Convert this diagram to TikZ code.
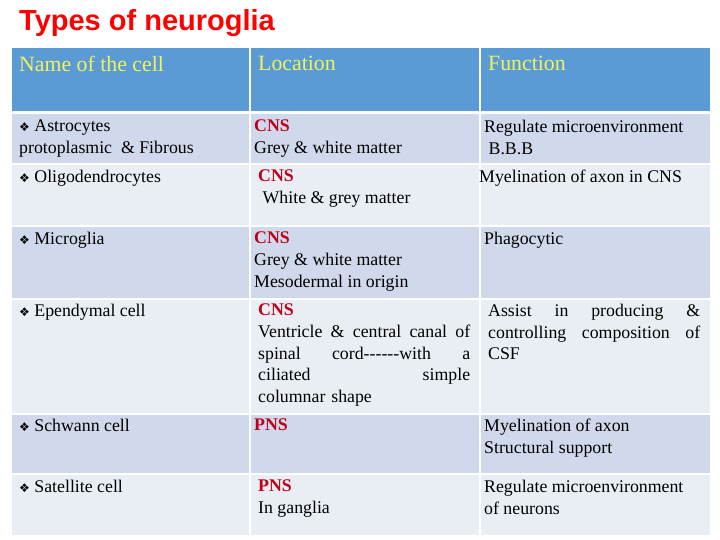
\documentclass[tikz,border=0pt]{standalone}
\usepackage{fontspec}
\setmainfont{Liberation Serif}
\newfontfamily\titlefont{Liberation Sans}
\newfontfamily\symfont{DejaVu Sans}
\definecolor{hdr}{HTML}{5B9BD5}
\definecolor{dark}{HTML}{CFD9EB}
\definecolor{light}{HTML}{E9EEF5}
\definecolor{hyel}{HTML}{F2F25A}
\definecolor{cns}{HTML}{C0001A}
\newcommand{\bul}{{\symfont\fontsize{12}{12}\selectfont ❖}\ }
\newcommand{\rd}[1]{\textcolor{cns}{\textbf{#1}}}
\begin{document}
\begin{tikzpicture}[x=1pt,y=-1pt,
  cell/.style={anchor=north west,inner sep=0pt,align=left,font=\fontsize{17.8}{21.6}\selectfont},
  hd/.style={anchor=north west,inner sep=0pt,font=\fontsize{21.8}{24}\selectfont,text=hyel}]
\useasboundingbox (0,0) rectangle (720,540);
\fill[white] (0,0) rectangle (720,540);
\node[anchor=north west,inner sep=0pt,text=red,font=\titlefont\bfseries\fontsize{29}{30}\selectfont] (title) at (19,9) {Types of neuroglia};
\foreach \ya/\yb/\c in {48/111/hdr,114/163/dark,165/225/light,227/298/dark,300/413/light,415/473/dark,475/535/light}{
  \fill[\c] (12,\ya) rectangle (249,\yb);
  \fill[\c] (251,\ya) rectangle (479,\yb);
  \fill[\c] (481,\ya) rectangle (710,\yb);
}
\node[hd] (h1) at (19,56) {Name of the cell};
\node[hd] (h2) at (258,56) {Location};
\node[hd] (h3) at (488,56) {Function};
\node[cell] (a1) at (19,120) {\bul Astrocytes\\protoplasmic\ \ \& Fibrous};
\node[cell] (b1) at (254,120) {\rd{CNS}\\Grey \& white matter};
\node[cell] (c1) at (484,120) {Regulate microenvironment\\\ B.B.B};
\node[cell] (a2) at (19,170) {\bul Oligodendrocytes};
\node[cell] (b2) at (258,170) {\rd{CNS}\\\ White \& grey matter};
\node[cell] (c2) at (479,170) {Myelination of axon in CNS};
\node[cell] (a3) at (19,232) {\bul Microglia};
\node[cell] (b3) at (254,232) {\rd{CNS}\\Grey \& white matter\\Mesodermal in origin};
\node[cell] (c3) at (484,232) {Phagocytic};
\node[cell] (a4) at (19,304) {\bul Ependymal cell};
\node[cell,text width=212pt] (b4) at (258,304) {\rd{CNS}\\Ventricle\hfill\&\hfill central\hfill canal\hfill of\\spinal\hfill cord{-}{-}{-}{-}{-}{-}with\hfill a\\ciliated\hfill simple\\columnar shape};
\node[cell,text width=212pt] (c4) at (488,304) {Assist\hfill in\hfill producing\hfill \&\\controlling\hfill composition\hfill of\\CSF};
\node[cell] (a5) at (19,419) {\bul Schwann cell};
\node[cell] (b5) at (254,419) {\rd{PNS}};
\node[cell] (c5) at (484,419) {Myelination of axon\\Structural support};
\node[cell] (a6) at (19,480) {\bul Satellite cell};
\node[cell] (b6) at (258,480) {\rd{PNS}\\In ganglia};
\node[cell] (c6) at (484,480) {Regulate microenvironment\\of neurons};
\end{tikzpicture}
\end{document}
